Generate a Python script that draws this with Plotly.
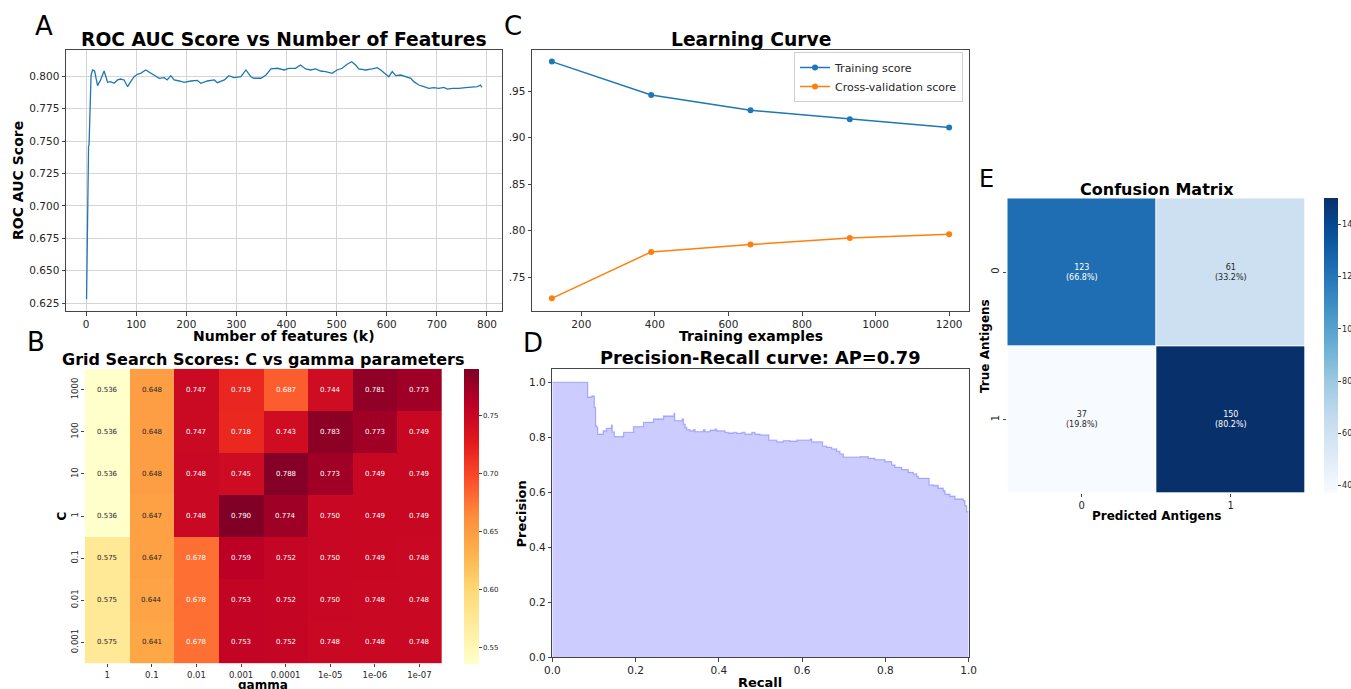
import plotly.graph_objects as go

W, H = 1351, 689
FONT = "DejaVu Sans"
TXT = "#262626"

# ---------------- Panel A: ROC AUC vs number of features ----------------
n_features = [1, 2, 3, 4, 5, 6, 7, 8, 9, 10, 13, 17, 23, 29, 36, 43, 49, 56, 63, 69,
              76, 83, 89, 96, 103, 109, 119, 129, 139, 146, 156, 162, 169, 176, 186,
              196, 209, 222, 229, 242, 256, 262, 276, 285, 295, 309, 319, 329, 335,
              349, 359, 369, 382, 395, 405, 418, 428, 438, 448, 458, 468, 478, 491,
              501, 511, 521, 530, 538, 544, 558, 571, 581, 588, 598, 604, 611, 618,
              628, 638, 648, 654, 664, 674, 684, 694, 704, 714, 721, 731, 744, 757,
              771, 781, 787, 790]
roc_auc = [0.628, 0.665, 0.726, 0.745, 0.746, 0.747, 0.765, 0.785, 0.797, 0.801,
           0.8049, 0.8041, 0.7928, 0.7972, 0.8041, 0.7954, 0.7959, 0.7946, 0.7972,
           0.7979, 0.7972, 0.7920, 0.7959, 0.7997, 0.8018, 0.8023, 0.8049, 0.8023,
           0.7997, 0.7985, 0.7990, 0.7972, 0.8005, 0.7972, 0.7964, 0.7954, 0.7964,
           0.7969, 0.7946, 0.7964, 0.7972, 0.7951, 0.7972, 0.8005, 0.7990, 0.7997,
           0.8049, 0.7997, 0.7985, 0.7985, 0.8010, 0.8057, 0.8062, 0.8049, 0.8062,
           0.8062, 0.8087, 0.8057, 0.8049, 0.8057, 0.8041, 0.8036, 0.8023, 0.8049,
           0.8062, 0.8093, 0.8113, 0.8087, 0.8057, 0.8049, 0.8057, 0.8067, 0.8049,
           0.8015, 0.7997, 0.8036, 0.8005, 0.8010, 0.7997, 0.7985, 0.7959, 0.7933,
           0.7920, 0.7907, 0.7913, 0.7907, 0.7915, 0.7902, 0.7907, 0.7907, 0.7913,
           0.7915, 0.7920, 0.7933, 0.7915]

# ---------------- Panel B: grid search ----------------
gamma_labels = ["1", "0.1", "0.01", "0.001", "0.0001", "1e-05", "1e-06", "1e-07"]
c_labels = ["1000", "100", "10", "1", "0.1", "0.01", "0.001"]
grid_scores = [
    [0.536, 0.648, 0.747, 0.719, 0.687, 0.744, 0.781, 0.773],
    [0.536, 0.648, 0.747, 0.718, 0.743, 0.783, 0.773, 0.749],
    [0.536, 0.648, 0.748, 0.745, 0.788, 0.773, 0.749, 0.749],
    [0.536, 0.647, 0.748, 0.790, 0.774, 0.750, 0.749, 0.749],
    [0.575, 0.647, 0.678, 0.759, 0.752, 0.750, 0.749, 0.748],
    [0.575, 0.644, 0.678, 0.753, 0.752, 0.750, 0.748, 0.748],
    [0.575, 0.641, 0.678, 0.753, 0.752, 0.748, 0.748, 0.748],
]
grid_cbar_ticks = [0.55, 0.60, 0.65, 0.70, 0.75]

# ---------------- Panel C: learning curve ----------------
train_sizes = [120, 390, 660, 930, 1200]
train_scores = [0.982, 0.946, 0.9295, 0.920, 0.911]
cv_scores = [0.727, 0.777, 0.785, 0.792, 0.796]
lc_yticks = [0.75, 0.80, 0.85, 0.90, 0.95]
lc_yticktext = [".75", ".80", ".85", ".90", ".95"]

# ---------------- Panel D: precision-recall ----------------
recall = [0.0, 0.085, 0.095, 0.101, 0.104, 0.106, 0.109, 0.122, 0.130, 0.142, 0.144,
          0.149, 0.171, 0.195, 0.219, 0.243, 0.267, 0.292, 0.294, 0.312, 0.315, 0.319,
          0.323, 0.331, 0.339, 0.343, 0.363, 0.367, 0.379, 0.391, 0.395, 0.415, 0.423,
          0.435, 0.443, 0.455, 0.463, 0.479, 0.487, 0.499, 0.520, 0.539, 0.555, 0.571,
          0.587, 0.619, 0.623, 0.649, 0.659, 0.671, 0.683, 0.691, 0.699, 0.739, 0.759,
          0.775, 0.799, 0.815, 0.823, 0.839, 0.855, 0.867, 0.875, 0.879, 0.905, 0.915,
          0.927, 0.939, 0.943, 0.955, 0.967, 0.987, 0.991, 0.995, 1.0]
precision = [1.0, 0.947, 0.951, 0.909, 0.843, 0.838, 0.812, 0.824, 0.833, 0.845, 0.820,
             0.803, 0.818, 0.839, 0.855, 0.867, 0.878, 0.887, 0.861, 0.867, 0.848, 0.836,
             0.828, 0.824, 0.828, 0.821, 0.828, 0.821, 0.826, 0.830, 0.824, 0.818, 0.816,
             0.818, 0.815, 0.818, 0.812, 0.818, 0.812, 0.809, 0.790, 0.784, 0.788, 0.786,
             0.790, 0.794, 0.784, 0.768, 0.764, 0.758, 0.749, 0.740, 0.728, 0.730, 0.724,
             0.719, 0.712, 0.700, 0.691, 0.683, 0.673, 0.667, 0.658, 0.651, 0.627, 0.625,
             0.615, 0.606, 0.594, 0.586, 0.576, 0.570, 0.552, 0.530, 0.530]
average_precision = 0.79

# ---------------- Panel E: confusion matrix ----------------
cm_labels = ["0", "1"]
cm_counts = [[123, 61], [37, 150]]
cm_cbar_ticks = [40, 60, 80, 100, 120, 140]

YLORRD = ["#ffffcc", "#ffeda0", "#fed976", "#feb24c", "#fd8d3c",
          "#fc4e2a", "#e31a1c", "#bd0026", "#800026"]
BLUES = ["#f7fbff", "#deebf7", "#c6dbef", "#9ecae1", "#6baed6",
         "#4292c6", "#2171b5", "#08519c", "#08306b"]


def cs(colors):
    n = len(colors) - 1
    return [[i / n, c] for i, c in enumerate(colors)]


def fx(p):
    return p / W


def fy(p):
    return 1 - p / H


tickfont = dict(family=FONT, size=10.5, color=TXT)
frame = dict(showline=True, mirror=True, linecolor="#444", linewidth=1,
             ticks="outside", ticklen=3.5, tickcolor="#444", tickwidth=1,
             zeroline=False, tickfont=tickfont)

gx = list(range(len(gamma_labels)))
gy = list(range(len(c_labels)))
cx = list(range(len(cm_labels)))

fig = go.Figure()

# A
fig.add_trace(go.Scatter(x=n_features, y=roc_auc, mode="lines",
                         line=dict(color="#1f77b4", width=1.3),
                         xaxis="x", yaxis="y", showlegend=False))

# B
gmin = min(min(r) for r in grid_scores)
gmax = max(max(r) for r in grid_scores)
fig.add_trace(go.Heatmap(
    z=grid_scores, x=gx, y=gy, colorscale=cs(YLORRD),
    zmin=gmin, zmax=gmax, xaxis="x2", yaxis="y2", hoverinfo="skip",
    colorbar=dict(x=fx(464), xanchor="left", xpad=0, y=fy(368.7), yanchor="top",
                  ypad=0, len=(663.3 - 368.7) / H, lenmode="fraction",
                  thickness=15, outlinewidth=0, ticks="outside", ticklen=3,
                  tickcolor="#444", tickvals=grid_cbar_ticks, tickformat=".2f",
                  tickfont=dict(family=FONT, size=7, color=TXT))))

# C
fig.add_trace(go.Scatter(x=train_sizes, y=train_scores, mode="lines+markers",
                         name="Training score",
                         line=dict(color="#1f77b4", width=1.5),
                         marker=dict(size=6, color="#1f77b4"),
                         xaxis="x3", yaxis="y3"))
fig.add_trace(go.Scatter(x=train_sizes, y=cv_scores, mode="lines+markers",
                         name="Cross-validation score",
                         line=dict(color="#ff7f0e", width=1.5),
                         marker=dict(size=6, color="#ff7f0e"),
                         xaxis="x3", yaxis="y3"))

# D
fig.add_trace(go.Scatter(x=recall, y=precision, mode="lines", line_shape="hv",
                         fill="tozeroy", fillcolor="rgba(0,0,255,0.2)",
                         line=dict(color="rgba(0,0,255,0.25)", width=1.3),
                         xaxis="x4", yaxis="y4", showlegend=False))

# E
fig.add_trace(go.Heatmap(
    z=cm_counts, x=cx, y=cx, colorscale=cs(BLUES),
    zmin=min(min(r) for r in cm_counts), zmax=max(max(r) for r in cm_counts),
    xgap=1, ygap=1, xaxis="x5", yaxis="y5", hoverinfo="skip",
    colorbar=dict(x=fx(1324), xanchor="left", xpad=0, y=fy(198.3), yanchor="top",
                  ypad=0, len=(493.3 - 198.3) / H, lenmode="fraction",
                  thickness=14, outlinewidth=0, ticks="outside", ticklen=3,
                  tickcolor="#444", tickvals=cm_cbar_ticks,
                  tickfont=dict(family=FONT, size=8, color=TXT))))

annotations = []

# heatmap B cell text
for i, row in enumerate(grid_scores):
    for j, v in enumerate(row):
        annotations.append(dict(
            x=gx[j], y=gy[i], xref="x2", yref="y2",
            text=f"{v:.3f}", showarrow=False,
            font=dict(family=FONT, size=7, color=TXT if v < 0.66 else "white")))

# heatmap E cell text
for i, row in enumerate(cm_counts):
    tot = sum(row)
    for j, v in enumerate(row):
        annotations.append(dict(
            x=cx[j], y=cx[i], xref="x5", yref="y5",
            text=f"{v}<br>({100 * v / tot:.1f}%)", showarrow=False,
            font=dict(family=FONT, size=8, color="white" if v > 95 else TXT)))


def label(text, px, py, size, bold=True, angle=0):
    annotations.append(dict(
        x=fx(px), y=fy(py), xref="paper", yref="paper",
        text=f"<b>{text}</b>" if bold else text, showarrow=False,
        textangle=angle, xanchor="center", yanchor="middle",
        font=dict(family=FONT, size=size, color="black")))


# titles
label("ROC AUC Score vs Number of Features", 284, 39.5, 18.7)
label("Learning Curve", 750.5, 39.5, 18.7)
label("Grid Search Scores: C vs gamma parameters", 263, 359, 16)
label("Precision-Recall curve: AP=" + f"{average_precision:.2f}", 760, 357, 17.8)
label("Confusion Matrix", 1156.5, 189.5, 16)
# axis titles
label("Number of features (k)", 284, 336, 14)
label("ROC AUC Score", 18, 181, 14, angle=-90)
label("Training examples", 750.5, 336, 14)
label("C", 61.5, 516, 12, angle=-90)
label("gamma", 263, 685, 12)
label("Recall", 760, 682, 13)
label("Precision", 520.5, 514, 13, angle=-90)
label("True Antigens", 985, 346, 12, angle=-90)
label("Predicted Antigens", 1156, 516, 12)
# panel letters
label("A", 43.5, 26.5, 26, bold=False)
label("C", 512.5, 26.5, 26, bold=False)
label("B", 35.5, 342, 26, bold=False)
label("D", 532.5, 343, 26, bold=False)
label("E", 986.5, 179, 24, bold=False)

heat_axis = dict(showgrid=False, zeroline=False, showline=False, ticks="outside",
                 ticklen=3, tickcolor="#444")

fig.update_layout(
    width=W, height=H, margin=dict(l=0, r=0, t=0, b=0, autoexpand=False),
    paper_bgcolor="white", plot_bgcolor="white",
    font=dict(family=FONT, color=TXT),
    annotations=annotations,
    showlegend=True,
    legend=dict(x=fx(963), xanchor="right", y=fy(52), yanchor="top",
                bgcolor="white", bordercolor="#d0d0d0", borderwidth=1,
                font=dict(family=FONT, size=11, color=TXT)),
    # A
    xaxis=dict(domain=[fx(66), fx(502)], anchor="y", range=[-40, 830],
               tickvals=list(range(0, 801, 100)), showgrid=True,
               gridcolor="#d4d4d4", **frame),
    yaxis=dict(domain=[fy(311), fy(50)], anchor="x", range=[0.619, 0.8203],
               tick0=0.625, dtick=0.025, tickformat=".3f", showgrid=True,
               gridcolor="#d4d4d4", **frame),
    # B
    xaxis2=dict(domain=[fx(85), fx(441.7)], anchor="y2",
                range=[-0.5, len(gx) - 0.5], tickvals=gx, ticktext=gamma_labels,
                tickfont=dict(family=FONT, size=8.5, color=TXT), **heat_axis),
    yaxis2=dict(domain=[fy(663.3), fy(368.7)], anchor="x2",
                range=[len(gy) - 0.5, -0.5], tickvals=gy, ticktext=c_labels,
                tickangle=-90, tickfont=dict(family=FONT, size=8.5, color=TXT),
                **heat_axis),
    # C
    xaxis3=dict(domain=[fx(532), fx(969)], anchor="y3", range=[66, 1254],
                tickvals=list(range(200, 1201, 200)), showgrid=False, **frame),
    yaxis3=dict(domain=[fy(311), fy(50)], anchor="x3", range=[0.7134, 0.9945],
                tickvals=lc_yticks, ticktext=lc_yticktext, showgrid=False, **frame),
    # D
    xaxis4=dict(domain=[fx(552.3), fx(968.7)], anchor="y4", range=[0, 1],
                tickvals=[0, 0.2, 0.4, 0.6, 0.8, 1.0], tickformat=".1f",
                showgrid=False, **frame),
    yaxis4=dict(domain=[fy(657.3), fy(368.7)], anchor="x4", range=[0, 1.05],
                tickvals=[0, 0.2, 0.4, 0.6, 0.8, 1.0], tickformat=".1f",
                showgrid=False, **frame),
    # E
    xaxis5=dict(domain=[fx(1007.3), fx(1305)], anchor="y5",
                range=[-0.5, len(cx) - 0.5], tickvals=cx, ticktext=cm_labels,
                tickfont=dict(family=FONT, size=10, color=TXT), **heat_axis),
    yaxis5=dict(domain=[fy(493.3), fy(198.3)], anchor="x5",
                range=[len(cx) - 0.5, -0.5], tickvals=cx, ticktext=cm_labels,
                tickangle=-90, tickfont=dict(family=FONT, size=10, color=TXT),
                **heat_axis),
)

fig.write_html("out.html", config={"displayModeBar": False},
               post_script="document.body.style.margin='0';"
                           "document.body.style.overflow='hidden';")
